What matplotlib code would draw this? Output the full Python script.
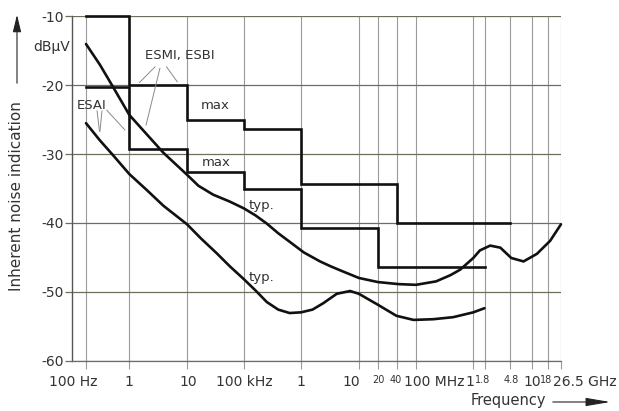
import numpy as np
import matplotlib
matplotlib.use('Agg')
import matplotlib.pyplot as plt

plt.rcParams['font.family'] = 'DejaVu Sans'
plt.rcParams['axes.unicode_minus'] = False

# the printed frequency axis is not a clean log scale (100 Hz..1 kHz is squeezed,
# the GHz part is hand spaced), so map log10(f) to position piecewise
scale_logf = [0, 2, 3, 4, 5, 6, 7, np.log10(2e7), np.log10(4e7), 8, 9,
              np.log10(1.8e9), np.log10(4.8e9), 10, np.log10(1.8e10), np.log10(2.65e10), 13]
scale_pos = [-0.6, 86, 129.3, 187, 244, 301, 358.8, 378, 396.5, 416, 473.3,
             484.5, 510, 531.7, 548.3, 561, 708]

# data
tick_freqs = [1e2, 1e3, 1e4, 1e5, 1e6, 1e7, 2e7, 4e7, 1e8, 1e9, 1.8e9, 4.8e9, 1e10, 1.8e10, 2.65e10]
tick_labels = ['100 Hz', '1', '10', '100 kHz', '1', '10', '20', '40', '100 MHz',
               '1', '1.8', '4.8', '10', '18', '26.5 GHz']
y_ticks = [-60, -50, -40, -30, -20, -10]

esmi_max_edges = [1e2, 1e3, 1e4, 1e5, 1e6, 4e7, 4.8e9]
esmi_max_level = [-10, -20, -25, -26.4, -34.3, -40]
esai_max_edges = [1e2, 1e3, 1e4, 1e5, 1e6, 2e7, 1.8e9]
esai_max_level = [-20.3, -29.2, -32.6, -35.1, -40.7, -46.4]

esmi_typ_logf = [2.0, 2.32, 2.63, 3.0, 3.30, 3.59, 4.0, 4.2, 4.46, 4.75, 5.0, 5.2, 5.4,
                 5.6, 5.81, 6.05, 6.33, 6.51, 6.68, 7.0, 7.3, 7.65, 8.0, 8.35, 8.6,
                 8.77, 9.0, 9.15, 9.35, 9.52, 9.7, 9.88, 10.08, 10.28, 10.423]
esmi_typ_db = [-14.0, -17.0, -20.3, -24.3, -27.1, -29.8, -33.0, -34.6, -35.9, -36.9,
               -37.9, -38.9, -40.1, -41.5, -42.8, -44.3, -45.6, -46.3, -46.9, -48.0,
               -48.6, -48.9, -49.0, -48.5, -47.6, -46.8, -45.1, -44.0, -43.3, -43.6,
               -45.1, -45.6, -44.5, -42.6, -40.2]

esai_typ_logf = [2.0, 2.32, 2.63, 3.0, 3.30, 3.59, 4.0, 4.25, 4.52, 4.75, 5.0, 5.2,
                 5.4, 5.6, 5.8, 6.0, 6.2, 6.38, 6.62, 6.85, 7.0, 7.3, 7.6, 7.95, 8.3,
                 8.65, 9.0, 9.255]
esai_typ_db = [-25.5, -28.0, -30.2, -32.9, -35.2, -37.5, -40.2, -42.3, -44.4, -46.3,
               -48.2, -49.8, -51.5, -52.6, -53.1, -53.0, -52.6, -51.7, -50.3, -49.9,
               -50.3, -51.9, -53.5, -54.1, -54.0, -53.7, -53.0, -52.4]


def fwd(f):
    with np.errstate(divide='ignore', invalid='ignore'):
        lf = np.log10(np.clip(f, 1e-3, None))
    return np.interp(lf, scale_logf, scale_pos)


def inv(p):
    return 10 ** np.interp(p, scale_pos, scale_logf)


fig = plt.figure(figsize=(6.19, 4.11), dpi=100)
ax = fig.add_axes([72 / 619, 1 - 360.5 / 411, (561 - 72) / 619, (360.5 - 16.5) / 411])
ax.set_xscale('function', functions=(fwd, inv))
ax.set_xlim(inv(72), 2.65e10)
ax.set_ylim(-60, -10)

line_kw = dict(color='#111111', lw=1.9, solid_joinstyle='miter', clip_on=False)
ax.step(esmi_max_edges, esmi_max_level + [esmi_max_level[-1]], where='post', **line_kw)
ax.step(esai_max_edges, esai_max_level + [esai_max_level[-1]], where='post', **line_kw)
ax.plot(10 ** np.array(esmi_typ_logf), esmi_typ_db, solid_capstyle='round', **line_kw)
ax.plot(10 ** np.array(esai_typ_logf), esai_typ_db, solid_capstyle='round', **line_kw)

# grid and ticks
ax.set_xticks(tick_freqs)
ax.set_xticklabels([])
ax.set_yticks(y_ticks)
ax.set_yticklabels([str(v) for v in y_ticks], fontsize=10, color='#333333')
ax.minorticks_off()
ax.xaxis.grid(True, color='#9a9a9a', lw=0.8)
ax.yaxis.grid(True, color='#6e6e5c', lw=0.9)
ax.set_axisbelow(True)
ax.tick_params(axis='x', length=6, width=0.8, color='#9a9a9a')
ax.tick_params(axis='y', length=5, width=0.9, color='#6e6e5c', pad=1)
for s in ['top', 'right']:
    ax.spines[s].set_visible(False)
ax.spines['left'].set_color('#555555')
ax.spines['bottom'].set_color('#6e6e5c')
ax.spines['left'].set_linewidth(1.0)
ax.spines['bottom'].set_linewidth(0.9)

# frequency labels (hand placed in the original)
lab_dx = [-13, 0, 1, 0, 0, -8, 0, -1, -12, -3, -2, 1, 1, -2, -8]
lab_ha = ['center'] * 8 + ['left'] + ['center'] * 5 + ['left']
lab_fs = [10, 10, 10, 10, 10, 10, 7, 7, 10, 10, 7, 7, 10, 7, 10]
for f, t, dx, ha, fs in zip(tick_freqs, tick_labels, lab_dx, lab_ha, lab_fs):
    ax.annotate(t, xy=(f, 0), xycoords=('data', 'axes fraction'),
                xytext=(dx, -14), textcoords='offset pixels',
                ha=ha, va='top', fontsize=fs, color='#333333')

# labels inside the chart
txt = dict(fontsize=9.5, color='#333333', ha='center', va='center')
ax.text(7.6e3, -15.6, 'ESMI, ESBI', **txt)
ax.text(138, -22.9, 'ESAI', **txt)
ax.text(3.1e4, -22.9, 'max', **txt)
ax.text(3.2e4, -31.2, 'max', **txt)
ax.text(1.22e5, -37.4, 'typ.', fontsize=9.5, color='#333333', ha='left', va='center')
ax.text(1.22e5, -48.0, 'typ.', fontsize=9.5, color='#333333', ha='left', va='center')

lead = dict(arrowstyle='-', color='#8a8a8a', lw=0.7, shrinkA=0, shrinkB=0)
for a, b in [((2.8e3, -17.3), (1.5e3, -19.6)),
             ((3.4e3, -17.5), (1.95e3, -25.8)),
             ((4.4e3, -17.3), (6.8e3, -19.5)),
             ((180, -23.7), (205, -26.7)),
             ((234, -23.7), (210, -26.7)),
             ((300, -23.6), (795, -26.5))]:
    ax.annotate('', xy=b, xytext=a, arrowprops=lead)

fig.text(52 / 619, 1 - 47 / 411, 'dBµV', fontsize=10, color='#333333', ha='center', va='center')
fig.text(17 / 619, 1 - 196 / 411, 'Inherent noise indication', rotation=90,
         fontsize=11, color='#333333', ha='center', va='center')
fig.text(508 / 619, 1 - 400 / 411, 'Frequency', fontsize=10.5, color='#333333',
         ha='center', va='center')
ax.annotate('', xy=(17, 411 - 12), xytext=(17, 411 - 86), xycoords='figure pixels',
            arrowprops=dict(arrowstyle='-|>,head_length=0.7,head_width=0.17',
                            mutation_scale=15, lw=0.8, color='#222222'),
            annotation_clip=False)
ax.annotate('', xy=(613, 411 - 402), xytext=(550, 411 - 402), xycoords='figure pixels',
            arrowprops=dict(arrowstyle='-|>,head_length=1.0,head_width=0.17',
                            mutation_scale=15, lw=0.8, color='#222222'),
            annotation_clip=False)

fig.savefig('out.png', dpi=100)
